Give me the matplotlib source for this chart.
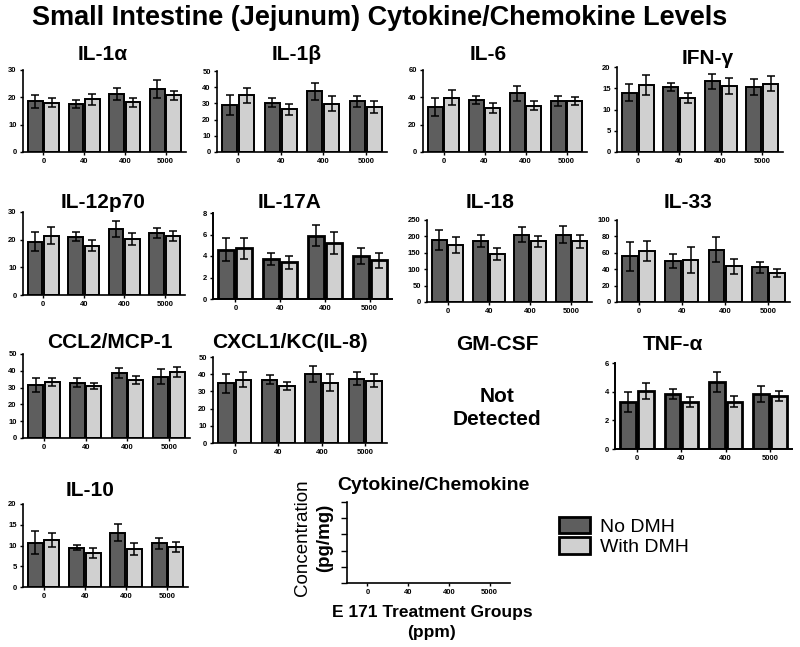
import numpy as np
import matplotlib
matplotlib.use('Agg')
import matplotlib.pyplot as plt
from matplotlib.patches import Patch

plt.rcParams['font.family'] = ['Liberation Sans', 'DejaVu Sans']

groups = ['0', '40', '400', '5000']

il1a_no = [18.6, 17.7, 21.1, 23.0]
il1a_no_err = [2.4, 1.5, 2.2, 3.3]
il1a_with = [18.1, 19.3, 18.2, 20.7]
il1a_with_err = [1.7, 2.1, 1.7, 1.7]

il1b_no = [29.2, 30.4, 37.4, 31.3]
il1b_no_err = [6.2, 2.9, 5.4, 3.3]
il1b_with = [35.0, 26.3, 29.8, 27.8]
il1b_with_err = [4.5, 3.5, 4.5, 3.5]

il6_no = [33.0, 38.0, 42.9, 37.3]
il6_no_err = [6.7, 3.2, 5.6, 3.9]
il6_with = [39.7, 31.9, 33.8, 37.3]
il6_with_err = [5.6, 3.6, 3.4, 3.1]

ifng_no = [14.0, 15.3, 16.6, 15.3]
ifng_no_err = [2.1, 1.0, 1.8, 1.8]
ifng_with = [15.8, 12.8, 15.5, 16.1]
ifng_with_err = [2.4, 1.2, 1.9, 1.8]

il12_no = [19.3, 21.0, 23.8, 22.4]
il12_no_err = [3.3, 1.6, 2.8, 1.8]
il12_with = [21.4, 17.8, 20.2, 21.2]
il12_with_err = [3.1, 1.9, 2.2, 1.8]

il17_no = [4.6, 3.7, 5.9, 4.0]
il17_no_err = [1.1, 0.55, 1.0, 0.7]
il17_with = [4.7, 3.4, 5.2, 3.6]
il17_with_err = [1.0, 0.6, 1.0, 0.7]

il18_no = [189, 186, 205, 205]
il18_no_err = [31, 18, 23, 26]
il18_with = [173, 147, 185, 185]
il18_with_err = [24, 19, 17, 20]

il33_no = [55.6, 50.4, 63.7, 42.3]
il33_no_err = [18.0, 8.5, 15.0, 6.5]
il33_with = [62.5, 51.6, 43.5, 35.5]
il33_with_err = [12.5, 16.0, 9.3, 5.0]

ccl2_no = [31.6, 33.0, 38.5, 36.6]
ccl2_no_err = [4.0, 2.6, 3.0, 4.3]
ccl2_with = [33.2, 31.0, 34.6, 39.2]
ccl2_with_err = [2.4, 2.0, 2.4, 2.9]

cxcl1_no = [34.6, 36.9, 40.0, 37.5]
cxcl1_no_err = [5.8, 2.5, 4.6, 3.8]
cxcl1_with = [36.9, 33.3, 35.0, 36.2]
cxcl1_with_err = [4.4, 2.3, 5.0, 3.8]

tnf_no = [3.3, 3.85, 4.7, 3.85]
tnf_no_err = [0.7, 0.35, 0.7, 0.55]
tnf_with = [4.06, 3.25, 3.3, 3.7]
tnf_with_err = [0.55, 0.35, 0.4, 0.35]

il10_no = [10.7, 9.5, 13.1, 10.5]
il10_no_err = [2.7, 0.7, 2.1, 1.4]
il10_with = [11.3, 8.3, 9.2, 9.7]
il10_with_err = [1.6, 1.2, 1.4, 1.2]

W, H = 800, 647
fig = plt.figure(figsize=(8, 6.47), dpi=100)

DARK = '#5e5e5e'
LIGHT = '#d0d0d0'


def px_axes(l, t, r, b):
    return fig.add_axes([l / W, 1 - b / H, (r - l) / W, (b - t) / H])


def px_text(x, y, s, **kw):
    fig.text(x / W, 1 - y / H, s, ha='center', va='center', **kw)


def style(ax, ymax, step, lw=1.2):
    for side in ['top', 'right']:
        ax.spines[side].set_visible(False)
    for side in ['left', 'bottom']:
        ax.spines[side].set_linewidth(lw)
    ax.set_xlim(-0.5, 3.5)
    ax.set_ylim(0, ymax)
    ax.set_yticks(np.arange(0, ymax + step / 2, step))
    ax.set_xticks(range(len(groups)))
    ax.set_xticklabels(groups)
    ax.tick_params(axis='both', labelsize=5.5, length=2.5, width=1, pad=2)
    for lab in ax.get_xticklabels() + ax.get_yticklabels():
        lab.set_fontweight('bold')


def panel(box, title, tpos, no, no_err, wi, wi_err, ymax, step, lw=1.4):
    ax = px_axes(*box)
    x = np.arange(len(groups))
    ekw = dict(elinewidth=1.1, capsize=3, capthick=1.1, ecolor='black')
    ax.bar(x - 0.2, no, 0.36, yerr=no_err, color=DARK, edgecolor='black',
           linewidth=lw, error_kw=ekw)
    ax.bar(x + 0.2, wi, 0.36, yerr=wi_err, color=LIGHT, edgecolor='black',
           linewidth=lw, error_kw=ekw)
    style(ax, ymax, step, 1.4 if lw > 1.5 else 1.2)
    px_text(tpos[0], tpos[1], title, fontsize=15, fontweight='bold')
    return ax


panel((23, 70, 186, 152), 'IL-1\u03b1', (103, 55), il1a_no, il1a_no_err, il1a_with, il1a_with_err, 30, 10)
panel((217, 71, 387, 152), 'IL-1\u03b2', (297, 55), il1b_no, il1b_no_err, il1b_with, il1b_with_err, 50, 10)
panel((423, 70, 587, 152), 'IL-6', (488, 55), il6_no, il6_no_err, il6_with, il6_with_err, 60, 20)
panel((617, 67, 783, 152), 'IFN-\u03b3', (708, 58), ifng_no, ifng_no_err, ifng_with, ifng_with_err, 20, 5)

panel((23, 212, 185, 295), 'IL-12p70', (103, 202), il12_no, il12_no_err, il12_with, il12_with_err, 30, 10)
panel((213, 213, 392, 299), 'IL-17A', (290, 202), il17_no, il17_no_err, il17_with, il17_with_err, 8, 2, lw=2.0)
panel((427, 220, 592, 302), 'IL-18', (490, 202), il18_no, il18_no_err, il18_with, il18_with_err, 250, 50)
panel((617, 220, 790, 302), 'IL-33', (688, 202), il33_no, il33_no_err, il33_with, il33_with_err, 100, 20)

panel((23, 354, 190, 438), 'CCL2/MCP-1', (110, 343), ccl2_no, ccl2_no_err, ccl2_with, ccl2_with_err, 50, 10)
panel((213, 357, 387, 443), 'CXCL1/KC(IL-8)', (290, 343), cxcl1_no, cxcl1_no_err, cxcl1_with, cxcl1_with_err, 50, 10)
panel((615, 363, 792, 449), 'TNF-\u03b1', (673, 345), tnf_no, tnf_no_err, tnf_with, tnf_with_err, 6, 2, lw=2.0)

px_text(497, 345, 'GM-CSF', fontsize=15, fontweight='bold')
px_text(497, 408, 'Not\nDetected', fontsize=15, fontweight='bold', linespacing=1.3)

panel((23, 504, 188, 587), 'IL-10', (90, 490), il10_no, il10_no_err, il10_with, il10_with_err, 20, 5)

# empty key panel
ax = px_axes(347, 502, 510, 583)
style(ax, 5, 1)
ax.set_yticklabels([])
ax.tick_params(axis='y', length=4)
px_text(433, 485, 'Cytokine/Chemokine', fontsize=14, fontweight='bold')
px_text(302, 538, 'Concentration', fontsize=13.5, rotation=90)
px_text(325, 538, '(pg/mg)', fontsize=13.5, fontweight='bold', rotation=90)
px_text(432, 612, 'E 171 Treatment Groups', fontsize=12.5, fontweight='bold')
px_text(432, 633, '(ppm)', fontsize=12.5, fontweight='bold')

handles = [Patch(facecolor=DARK, edgecolor='black', linewidth=2, label='No DMH'),
           Patch(facecolor=LIGHT, edgecolor='black', linewidth=2, label='With DMH')]
fig.legend(handles=handles, loc='upper left', bbox_to_anchor=(549 / W, 1 - 507 / H),
           frameon=False, fontsize=14, handlelength=1.6, handleheight=0.9,
           handletextpad=0.5, labelspacing=0.1, borderpad=0)

px_text(380, 18, 'Small Intestine (Jejunum) Cytokine/Chemokine Levels',
        fontsize=19.5, fontweight='bold')

plt.savefig('out.png', dpi=100)
